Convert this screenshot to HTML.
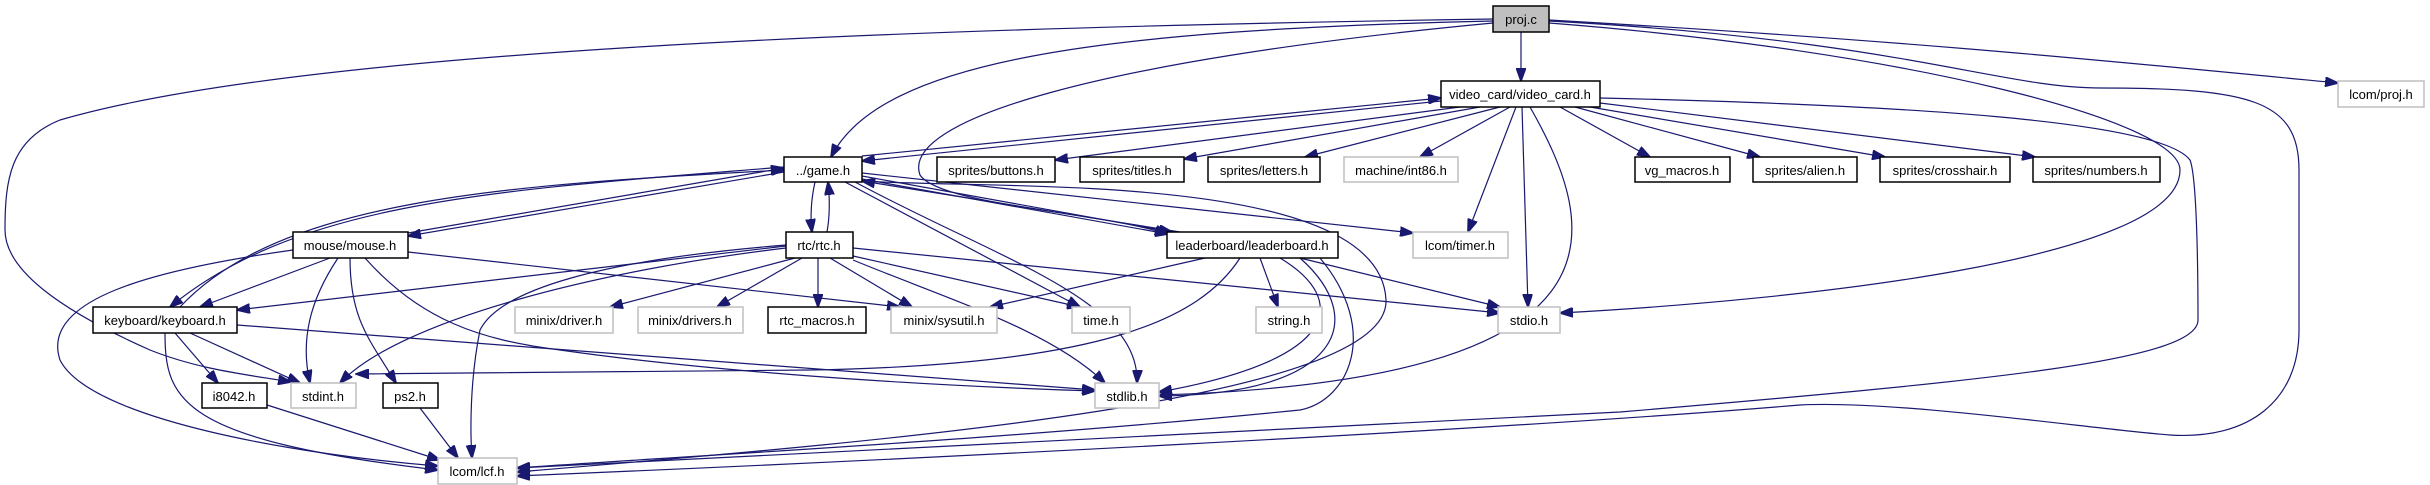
<!DOCTYPE html>
<html><head><meta charset="utf-8"><style>
html,body{margin:0;padding:0;background:#fff;}
svg{display:block;}
text{font-family:"Liberation Sans",Arial,sans-serif;font-size:13px;fill:#000;}
.b{fill:#fff;stroke:#000;stroke-width:1.5;}
.g{fill:#fff;stroke:#bfbfbf;stroke-width:1.5;}
.e{fill:none;stroke:#191970;stroke-width:1.2;marker-end:url(#a);}
</style></head><body>
<svg width="2430" height="485" viewBox="0 0 2430 485" xmlns="http://www.w3.org/2000/svg">
<defs>
<marker id="a" markerUnits="userSpaceOnUse" markerWidth="14" markerHeight="10" refX="13" refY="5" orient="auto">
<path d="M0,0 L14,5 L0,10 Z" fill="#191970" stroke="#191970"/>
</marker>
</defs>
<g>
<path class="e" d="M1521,32 L1521,81"/>
<path class="e" d="M1493,21 C1100,30 880,60 831,157"/>
<path class="e" d="M1493,23 C1100,60 900,120 920,175 C940,205 1100,212 1168,234"/>
<path class="e" d="M1493,19 C900,28 300,50 60,120 C10,140 5,180 5,230 C5,270 60,310 150,350 C200,370 250,375 291,382"/>
<path class="e" d="M1549,20 C1900,40 2100,60 2338,83"/>
<path class="e" d="M1549,23 C1900,50 2180,120 2180,170 C2180,260 1800,300 1560,313"/>
<path class="e" d="M1549,21 C1900,40 2000,88 2100,88 C2250,88 2299,100 2299,170 L2299,330 C2299,400 2250,440 2170,435 C2100,430 1900,400 1800,405 C1500,430 900,460 517,476"/>
<path class="e" d="M1460,107 L1055,160"/>
<path class="e" d="M1480,107 L1184,159"/>
<path class="e" d="M1500,107 L1305,157"/>
<path class="e" d="M1510,107 L1420,157"/>
<path class="e" d="M1516,107 L1468,232"/>
<path class="e" d="M1522,107 L1528,307"/>
<path class="e" d="M1530,107 C1600,230 1640,380 1159,395"/>
<path class="e" d="M1560,107 L1650,157"/>
<path class="e" d="M1575,107 L1760,157"/>
<path class="e" d="M1590,107 L1885,157"/>
<path class="e" d="M1600,103 L2035,157"/>
<path class="e" d="M1441,101 L862,161"/>
<path class="e" d="M862,156 L1441,98"/>
<path class="e" d="M1600,98 C1900,105 2160,120 2190,160 C2198,180 2198,300 2198,320 C2198,360 2000,380 1620,412 L517,468"/>
<path class="e" d="M784,172 L408,236"/>
<path class="e" d="M408,233 L784,168"/>
<path class="e" d="M784,167 C500,190 300,200 170,307"/>
<path class="e" d="M180,307 C280,200 500,185 784,170"/>
<path class="e" d="M815,182 C811,200 810,215 812,232"/>
<path class="e" d="M827,232 C830,215 830,200 828,182"/>
<path class="e" d="M862,176 L1172,232"/>
<path class="e" d="M862,179 L1168,234"/>
<path class="e" d="M1180,232 L862,181"/>
<path class="e" d="M845,182 L1080,307"/>
<path class="e" d="M855,182 C1000,260 1140,300 1137,383"/>
<path class="e" d="M862,173 L1413,233"/>
<path class="e" d="M862,181 C1000,190 1380,170 1386,300 C1390,400 900,440 517,472"/>
<path class="e" d="M330,258 L200,307"/>
<path class="e" d="M338,258 C310,300 300,340 310,383"/>
<path class="e" d="M350,258 C350,320 370,340 396,383"/>
<path class="e" d="M365,258 C420,320 480,340 560,350 C700,370 900,385 1095,391"/>
<path class="e" d="M408,252 L900,307"/>
<path class="e" d="M293,250 C150,270 40,300 60,360 C90,420 300,455 438,466"/>
<path class="e" d="M786,246 L237,310"/>
<path class="e" d="M795,258 L610,307"/>
<path class="e" d="M802,258 L717,307"/>
<path class="e" d="M818,258 L818,307"/>
<path class="e" d="M830,258 L912,307"/>
<path class="e" d="M853,256 L1080,307"/>
<path class="e" d="M853,260 C950,300 1050,330 1105,383"/>
<path class="e" d="M853,248 L1500,313"/>
<path class="e" d="M786,248 C600,270 400,320 340,383"/>
<path class="e" d="M786,245 C600,260 500,290 480,330 C470,380 470,430 472,458"/>
<path class="e" d="M1205,258 L990,307"/>
<path class="e" d="M1260,258 L1278,307"/>
<path class="e" d="M1300,258 L1500,307"/>
<path class="e" d="M1280,258 C1350,300 1340,360 1159,392"/>
<path class="e" d="M1300,258 C1370,320 1340,395 1159,396"/>
<path class="e" d="M1240,258 C1200,320 1100,365 810,370 C600,372 450,373 356,374"/>
<path class="e" d="M1320,258 C1380,330 1350,400 1300,410 C1000,440 700,455 517,468"/>
<path class="e" d="M175,333 L218,383"/>
<path class="e" d="M190,333 L300,383"/>
<path class="e" d="M237,325 L1095,390"/>
<path class="e" d="M165,333 C165,400 180,440 438,470"/>
<path class="e" d="M267,405 L440,460"/>
<path class="e" d="M420,408 L458,458"/>
</g>
<rect x="1493" y="6" width="56" height="26" fill="#bfbfbf" stroke="#000" stroke-width="1.5"/><text x="1521" y="24" text-anchor="middle">proj.c</text>
<rect class="b" x="1441" y="81" width="159" height="26"/><text x="1520" y="99" text-anchor="middle">video_card/video_card.h</text>
<rect class="g" x="2338" y="81" width="86" height="26"/><text x="2381" y="99" text-anchor="middle">lcom/proj.h</text>
<rect class="b" x="784" y="157" width="78" height="25"/><text x="823" y="175" text-anchor="middle">../game.h</text>
<rect class="b" x="937" y="157" width="118" height="25"/><text x="996" y="175" text-anchor="middle">sprites/buttons.h</text>
<rect class="b" x="1080" y="157" width="104" height="25"/><text x="1132" y="175" text-anchor="middle">sprites/titles.h</text>
<rect class="b" x="1208" y="157" width="112" height="25"/><text x="1264" y="175" text-anchor="middle">sprites/letters.h</text>
<rect class="g" x="1344" y="157" width="114" height="25"/><text x="1401" y="175" text-anchor="middle">machine/int86.h</text>
<rect class="b" x="1635" y="157" width="95" height="25"/><text x="1682" y="175" text-anchor="middle">vg_macros.h</text>
<rect class="b" x="1753" y="157" width="104" height="25"/><text x="1805" y="175" text-anchor="middle">sprites/alien.h</text>
<rect class="b" x="1880" y="157" width="130" height="25"/><text x="1945" y="175" text-anchor="middle">sprites/crosshair.h</text>
<rect class="b" x="2033" y="157" width="127" height="25"/><text x="2096" y="175" text-anchor="middle">sprites/numbers.h</text>
<rect class="b" x="293" y="232" width="115" height="26"/><text x="350" y="250" text-anchor="middle">mouse/mouse.h</text>
<rect class="b" x="786" y="232" width="67" height="26"/><text x="819" y="250" text-anchor="middle">rtc/rtc.h</text>
<rect class="b" x="1167" y="232" width="171" height="26"/><text x="1252" y="250" text-anchor="middle">leaderboard/leaderboard.h</text>
<rect class="g" x="1413" y="232" width="95" height="26"/><text x="1460" y="250" text-anchor="middle">lcom/timer.h</text>
<rect class="b" x="93" y="307" width="144" height="26"/><text x="165" y="325" text-anchor="middle">keyboard/keyboard.h</text>
<rect class="g" x="515" y="307" width="98" height="26"/><text x="564" y="325" text-anchor="middle">minix/driver.h</text>
<rect class="g" x="638" y="307" width="105" height="26"/><text x="690" y="325" text-anchor="middle">minix/drivers.h</text>
<rect class="b" x="768" y="307" width="98" height="26"/><text x="817" y="325" text-anchor="middle">rtc_macros.h</text>
<rect class="g" x="891" y="307" width="106" height="26"/><text x="944" y="325" text-anchor="middle">minix/sysutil.h</text>
<rect class="g" x="1072" y="307" width="58" height="26"/><text x="1101" y="325" text-anchor="middle">time.h</text>
<rect class="g" x="1256" y="307" width="66" height="26"/><text x="1289" y="325" text-anchor="middle">string.h</text>
<rect class="g" x="1498" y="307" width="62" height="26"/><text x="1529" y="325" text-anchor="middle">stdio.h</text>
<rect class="b" x="202" y="383" width="65" height="25"/><text x="234" y="401" text-anchor="middle">i8042.h</text>
<rect class="g" x="291" y="383" width="65" height="25"/><text x="323" y="401" text-anchor="middle">stdint.h</text>
<rect class="b" x="383" y="383" width="55" height="25"/><text x="410" y="401" text-anchor="middle">ps2.h</text>
<rect class="g" x="1095" y="383" width="64" height="25"/><text x="1127" y="401" text-anchor="middle">stdlib.h</text>
<rect class="g" x="438" y="458" width="79" height="26"/><text x="477" y="476" text-anchor="middle">lcom/lcf.h</text>
</svg>
</body></html>
